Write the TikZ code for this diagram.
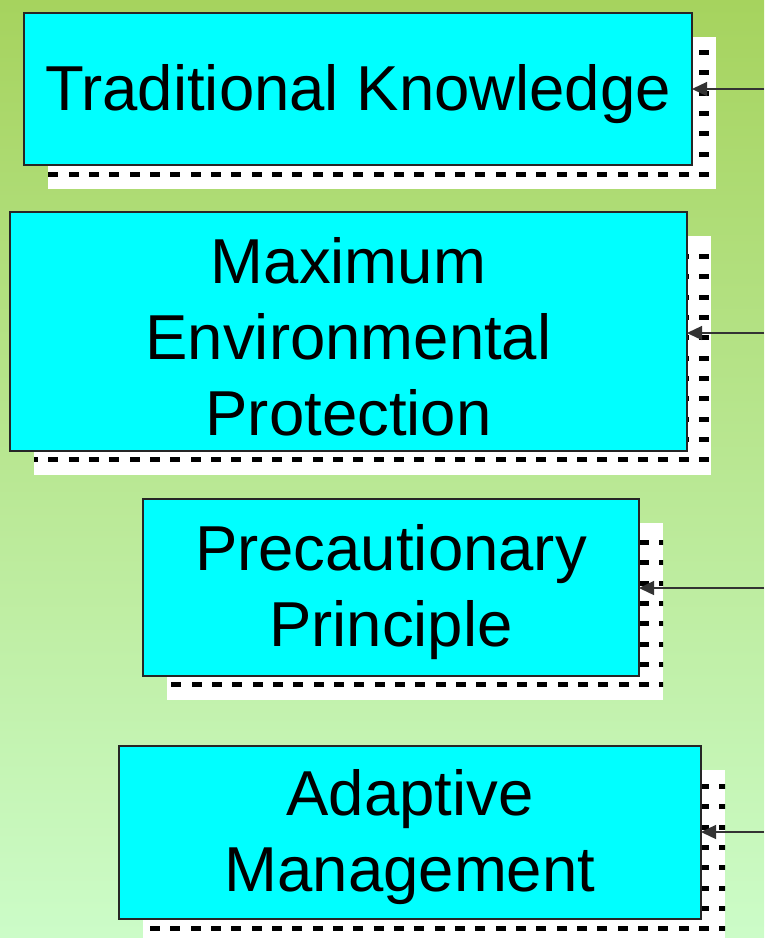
\documentclass[tikz,border=0pt]{standalone}
\usepackage{fontspec}
\setmainfont{Liberation Sans}
\usetikzlibrary{arrows.meta}
\definecolor{bgtop}{RGB}{166,211,94}
\definecolor{bgbottom}{RGB}{204,252,200}
\definecolor{boxcyan}{RGB}{0,255,255}
\tikzset{
  principle/.style={draw=black!85, line width=1.3pt, fill=boxcyan, inner sep=0pt,
    outer sep=0pt, anchor=north west},
  words/.style={align=center, inner sep=0pt, yshift=-5pt,
    font=\fontsize{63.5}{76}\selectfont},
  pointer/.style={draw=black!80, line width=1.3pt, -{Triangle[length=15pt,width=14pt]}}
}
% white shadow with a grid of black dashes: x1 y1 x2 y2, first column, first row
\newcommand{\dashshadow}[6]{%
  \fill[white] (#1,#2) rectangle (#3,#4);
  \begin{scope}
    \clip (#1,#2) rectangle (#3,#4);
    \foreach \i in {-1,...,40}
      \foreach \j in {0,...,12}
        \fill[black] ({#5-\i*20.33},{#6+\j*20.33}) rectangle ++(10,5);
  \end{scope}}
\begin{document}
\begin{tikzpicture}[x=1pt,y=-1pt]
  \useasboundingbox (0,0) rectangle (764,938);
  \shade[top color=bgtop, bottom color=bgbottom] (0,0) rectangle (764,938);

  % shadows
  \dashshadow{48}{37}{716}{189}{699}{50}
  \dashshadow{34}{236}{711}{475}{699}{254}
  \dashshadow{167}{523}{663}{700}{639}{540}
  \dashshadow{143}{770}{725}{943}{699}{784}

  % boxes
  \node[principle, minimum width=668pt, minimum height=152pt,
    label={[words]center:{Traditional Knowledge}}] (trad) at (24,13) {};
  \node[principle, minimum width=677pt, minimum height=239pt,
    label={[words]center:{Maximum\\Environmental\\Protection}}] (maxenv) at (10,212) {};
  \node[principle, minimum width=496pt, minimum height=177pt,
    label={[words]center:{Precautionary\\Principle}}] (precaution) at (143,499) {};
  \node[principle, minimum width=582pt, minimum height=173pt,
    label={[words]center:{Adaptive\\Management}}] (adaptive) at (119,746) {};

  % incoming arrows from the right
  \coordinate (in1) at (764,89);
  \coordinate (in2) at (764,333);
  \coordinate (in3) at (764,588);
  \coordinate (in4) at (764,832);
  \draw[pointer] (in1) -- (in1 -| trad.east);
  \draw[pointer] (in2) -- (in2 -| maxenv.east);
  \draw[pointer] (in3) -- (in3 -| precaution.east);
  \draw[pointer] (in4) -- (in4 -| adaptive.east);
\end{tikzpicture}
\end{document}
